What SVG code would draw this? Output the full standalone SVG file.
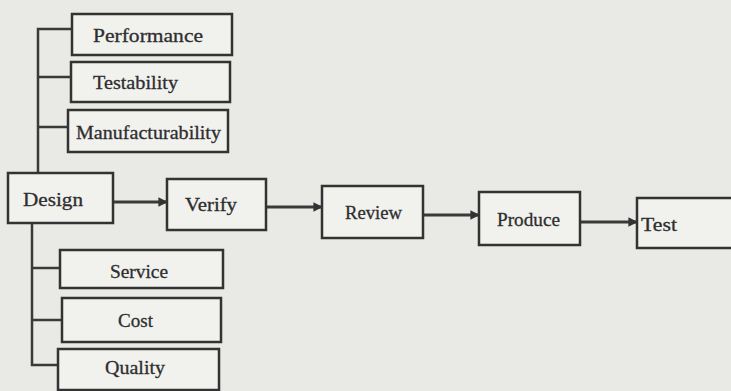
<svg xmlns="http://www.w3.org/2000/svg" width="731" height="391" viewBox="0 0 731 391">
<style>
.bg{fill:#e9e9e5}
.box{fill:#f1f1ee;stroke:#333;stroke-width:2.5}
.ln{fill:none;stroke:#3a3a3a;stroke-width:2.5}
.ar{fill:none;stroke:#3a3a3a;stroke-width:3;marker-end:url(#ah)}
text{font-family:"Liberation Serif","Times New Roman",serif;font-size:19px;fill:#2e2e2e;stroke:#2e2e2e;stroke-width:0.3}
</style>
<defs>
<marker id="ah" viewBox="0 0 10 10" refX="9" refY="5" markerWidth="3.2" markerHeight="3.2" orient="auto" markerUnits="strokeWidth">
<path d="M0,0 L10,5 L0,10 z" fill="#333"/>
</marker>
</defs>
<rect class="bg" x="0" y="0" width="731" height="391"/>
<g id="connectors">
<polyline class="ln" points="72,29 38,29 38,173"/>
<line class="ln" x1="38" y1="77" x2="71" y2="77"/>
<line class="ln" x1="38" y1="127" x2="68" y2="127"/>
<polyline class="ln" points="32,223 32,365 58,365"/>
<line class="ln" x1="32" y1="268" x2="60" y2="268"/>
<line class="ln" x1="32" y1="320" x2="62" y2="320"/>
<line class="ar" x1="113" y1="202" x2="167" y2="202"/>
<line class="ar" x1="266" y1="207" x2="322" y2="207"/>
<line class="ar" x1="423" y1="215" x2="479" y2="215"/>
<line class="ar" x1="580" y1="222" x2="637" y2="222"/>
</g>
<g id="performance"><rect class="box" x="72" y="14" width="160" height="41"/><text x="93" y="42" textLength="110" lengthAdjust="spacingAndGlyphs">Performance</text></g>
<g id="testability"><rect class="box" x="71" y="62" width="159" height="40"/><text x="93" y="89" textLength="85" lengthAdjust="spacingAndGlyphs">Testability</text></g>
<g id="manufacturability"><rect class="box" x="68" y="110" width="160" height="42"/><text x="76" y="139" textLength="145" lengthAdjust="spacingAndGlyphs">Manufacturability</text></g>
<g id="design"><rect class="box" x="8" y="173" width="105" height="50"/><text x="23" y="206" textLength="60" lengthAdjust="spacingAndGlyphs">Design</text></g>
<g id="verify"><rect class="box" x="167" y="179" width="99" height="51"/><text x="185" y="211" textLength="52" lengthAdjust="spacingAndGlyphs">Verify</text></g>
<g id="review"><rect class="box" x="322" y="186" width="101" height="52"/><text x="345" y="219" textLength="57" lengthAdjust="spacingAndGlyphs">Review</text></g>
<g id="produce"><rect class="box" x="479" y="192" width="101" height="53"/><text x="497" y="226" textLength="63" lengthAdjust="spacingAndGlyphs">Produce</text></g>
<g id="test"><rect class="box" x="637" y="198" width="100" height="50"/><text x="641" y="231" textLength="36" lengthAdjust="spacingAndGlyphs">Test</text></g>
<g id="service"><rect class="box" x="60" y="250" width="163" height="38"/><text x="110" y="278" textLength="58" lengthAdjust="spacingAndGlyphs">Service</text></g>
<g id="cost"><rect class="box" x="62" y="298" width="159" height="44"/><text x="118" y="327" textLength="35" lengthAdjust="spacingAndGlyphs">Cost</text></g>
<g id="quality"><rect class="box" x="58" y="349" width="161" height="41"/><text x="105" y="374" textLength="60" lengthAdjust="spacingAndGlyphs">Quality</text></g>
</svg>
